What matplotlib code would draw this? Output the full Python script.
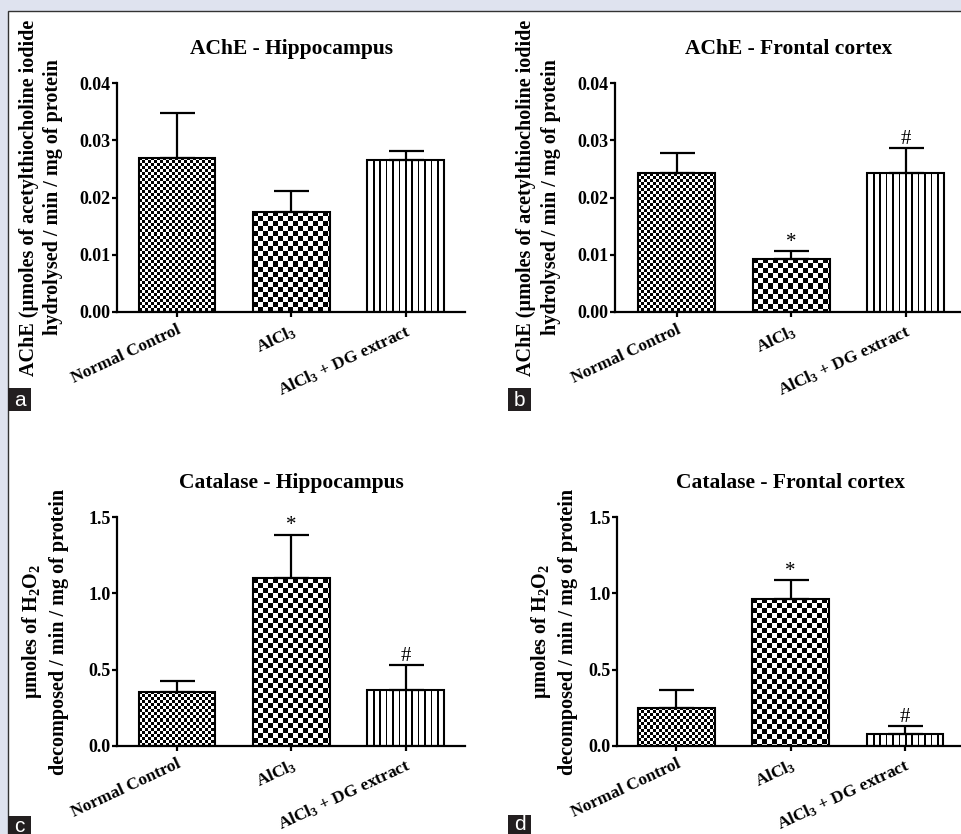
import numpy as np
import matplotlib
matplotlib.use('Agg')
import matplotlib.pyplot as plt
from matplotlib.patches import Rectangle

# Data
groups = ['Normal Control', 'AlCl$_3$', 'AlCl$_3$ + DG extract']

ache_hip = [0.0269, 0.0175, 0.0265]
ache_hip_err = [0.0078, 0.0036, 0.0017]
ache_hip_marks = ['', '', '']

ache_fc = [0.0242, 0.0093, 0.0242]
ache_fc_err = [0.0035, 0.0014, 0.0044]
ache_fc_marks = ['', '*', '#']

cat_hip = [0.355, 1.10, 0.367]
cat_hip_err = [0.072, 0.285, 0.165]
cat_hip_marks = ['', '*', '#']

cat_fc = [0.249, 0.963, 0.079]
cat_fc_err = [0.118, 0.125, 0.053]
cat_fc_marks = ['', '*', '#']

ache_ticks = [0.00, 0.01, 0.02, 0.03, 0.04]
ache_ticklabels = ['0.00', '0.01', '0.02', '0.03', '0.04']
cat_ticks = [0.0, 0.5, 1.0, 1.5]
cat_ticklabels = ['0.0', '0.5', '1.0', '1.5']

ache_ylabel = 'AChE (µmoles of acetylthiocholine iodide\nhydrolysed / min / mg of protein'
cat_ylabel = 'µmoles of H$_2$O$_2$\ndecomposed / min / mg of protein'

plt.rcParams['font.family'] = ['Liberation Serif', 'DejaVu Serif']
plt.rcParams['font.weight'] = 'bold'
plt.rcParams['mathtext.fontset'] = 'custom'
plt.rcParams['mathtext.rm'] = 'Liberation Serif:bold'
plt.rcParams['mathtext.default'] = 'rm'

W, H = 961, 834
fig = plt.figure(figsize=(W / 100, H / 100), dpi=100, facecolor='#dfe3ef')

# white panel
fig.add_artist(Rectangle((8 / W, -0.05), 1.1, (H - 11) / H + 0.05,
                         transform=fig.transFigure, facecolor='white',
                         edgecolor='#333333', lw=1, zorder=-5))


def texture(ax, bar, kind):
    bx0, by0 = bar.get_x(), bar.get_y()
    bx1, by1 = bx0 + bar.get_width(), by0 + bar.get_height()
    (px0, py0), (px1, py1) = ax.transData.transform([[bx0, by0], [bx1, by1]])
    w = max(int(round(px1 - px0)), 1)
    h = max(int(round(py1 - py0)), 1)
    jj, ii = np.meshgrid(np.arange(w), np.arange(h))
    if kind == 'fine':
        black = ((ii // 3 + jj // 3) % 2) == 0
    elif kind == 'coarse':
        black = ((ii // 5 + jj // 5) % 2) == 0
    else:
        black = ((jj + 1) % 6.4) < 1.6
    img = np.where(black, 0.0, 1.0)
    ax.imshow(img, extent=(bx0, bx1, by0, by1), cmap='gray', vmin=0, vmax=1,
              interpolation='nearest', aspect='auto', zorder=2)


def panel(rect, xlim, vals, errs, marks, ticks, ticklabels, title, ylabel, labx):
    ax = fig.add_axes(rect)
    x = np.arange(len(vals))
    ax.set_xlim(*xlim)
    ax.set_ylim(ticks[0], ticks[-1])
    bars = ax.bar(x, vals, width=0.672, color='none', edgecolor='black',
                  linewidth=1.5, zorder=3)
    for b, kind in zip(bars, ['fine', 'coarse', 'stripe']):
        texture(ax, b, kind)
    ax.errorbar(x, vals, yerr=[np.zeros(len(vals)), errs], fmt='none',
                ecolor='black', elinewidth=1.6, capsize=12.6, capthick=1.6,
                zorder=4)
    for xi, v, e, m in zip(x, vals, errs, marks):
        if m:
            ax.annotate(m, (xi, v + e), xytext=(0, 3), textcoords='offset points',
                        ha='center', va='baseline', fontsize=15,
                        fontweight='normal')
    ax.set_xlim(*xlim)
    ax.set_ylim(ticks[0], ticks[-1])
    ax.set_yticks(ticks)
    ax.set_yticklabels(ticklabels, fontsize=13, fontweight='bold')
    ax.set_xticks(x)
    ax.set_xticklabels(groups, fontsize=12.5, fontweight='bold', rotation=25,
                       ha='right', va='top', rotation_mode='anchor')
    ax.spines['top'].set_visible(False)
    ax.spines['right'].set_visible(False)
    ax.spines['left'].set_linewidth(1.6)
    ax.spines['bottom'].set_linewidth(1.6)
    ax.tick_params(axis='both', direction='out', length=3.5, width=1.6)
    ax.tick_params(axis='y', pad=1)
    ax.tick_params(axis='x', pad=4)
    ax.set_facecolor('none')
    ax.set_title(title, fontsize=15.5, fontweight='bold', pad=21)
    ax.set_ylabel(ylabel, fontsize=14.5, fontweight='bold', linespacing=1.3)
    ax.yaxis.set_label_coords(labx, 0.5)
    return ax


aw, ah = 348 / W, 229 / H
panel([117 / W, (H - 312) / H, aw, ah], (-0.524, 2.516), ache_hip, ache_hip_err,
      ache_hip_marks, ache_ticks, ache_ticklabels, 'AChE - Hippocampus',
      ache_ylabel, -0.155)
panel([615 / W, (H - 312) / H, aw, ah], (-0.54, 2.50), ache_fc, ache_fc_err,
      ache_fc_marks, ache_ticks, ache_ticklabels, 'AChE - Frontal cortex',
      ache_ylabel, -0.156)
panel([117 / W, (H - 746) / H, aw, ah], (-0.524, 2.516), cat_hip, cat_hip_err,
      cat_hip_marks, cat_ticks, cat_ticklabels, 'Catalase - Hippocampus',
      cat_ylabel, -0.138)
panel([617 / W, (H - 746) / H, aw, ah], (-0.516, 2.524), cat_fc, cat_fc_err,
      cat_fc_marks, cat_ticks, cat_ticklabels, 'Catalase - Frontal cortex',
      cat_ylabel, -0.113)

# panel letters
for letter, px, py, ty in [('a', 8, 411, 400), ('b', 508, 411, 400),
                           ('c', 8, 839, 826), ('d', 508, 838, 825)]:
    fig.add_artist(Rectangle((px / W, (H - py) / H), 23 / W, 23 / H,
                             transform=fig.transFigure, facecolor='#231f20',
                             edgecolor='none', zorder=5))
    fig.text((px + 11.5) / W, (H - ty) / H, letter, color='white',
             fontsize=15, fontweight='normal', family='Liberation Sans',
             ha='center', va='center', zorder=6)

plt.savefig('out.png', dpi=100, facecolor=fig.get_facecolor())
